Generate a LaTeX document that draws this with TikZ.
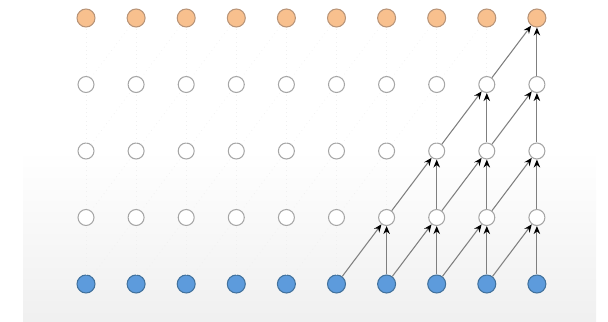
\documentclass[tikz,border=0pt]{standalone}
\usetikzlibrary{arrows.meta}
\definecolor{outFill}{HTML}{F8C08E}
\definecolor{outLine}{HTML}{B89478}
\definecolor{inFill}{HTML}{5D9BDC}
\definecolor{inLine}{HTML}{41719C}
\definecolor{hidLine}{HTML}{A6A6A6}
\definecolor{linkGray}{HTML}{7F7F7F}
\tikzset{
  unit/.style={circle, inner sep=0pt, line width=0.6pt},
  outNode/.style={unit, minimum size=0.36cm, fill=outFill, draw=outLine},
  hidNode/.style={unit, minimum size=0.32cm, fill=white, draw=hidLine},
  inNode/.style={unit, minimum size=0.36cm, fill=inFill, draw=inLine},
  conn/.style={draw=linkGray, line width=0.6pt,
    -{Stealth[length=1.6mm, width=1.3mm, black]}},
  ghost/.style={draw=black!6, line width=0.4pt, dotted},
}
\def\ColX{86}
\def\ColW{50.1}
\def\RowY{18}
\def\RowH{66.5}

\begin{document}
\begin{tikzpicture}[x=0.02cm, y=-0.02cm]
  \useasboundingbox (0,0) rectangle (608,321);

  % ----- background panel -----
  \shade[top color=white, middle color=black!5, bottom color=black!6]
    (23,150) rectangle (596,321);

  % ----- units: row 0 output, rows 1-3 hidden, row 4 input -----
  \foreach \c in {0,...,9} {
    \node[outNode] (n-0-\c) at (\ColX+\c*\ColW, \RowY) {};
    \foreach \r in {1,2,3}
      \node[hidNode] (n-\r-\c) at (\ColX+\c*\ColW, \RowY+\r*\RowH) {};
    \node[inNode] (n-4-\c) at (\ColX+\c*\ColW, \RowY+4*\RowH) {};
  }

  % ----- faint unused links -----
  \foreach \r in {0,...,3} {
    \pgfmathtruncatemacro{\rb}{\r+1}
    \pgfmathtruncatemacro{\cmin}{9-\r}
    \foreach \c in {0,...,9} {
      \ifnum\c<\cmin
        \draw[ghost] (n-\rb-\c) -- (n-\r-\c);
        \ifnum\c>0
          \pgfmathtruncatemacro{\cl}{\c-1}
          \draw[ghost] (n-\rb-\cl) -- (n-\r-\c);
        \fi
      \fi
    }
  }

  % ----- causal links (kernel 2) -----
  \foreach \r in {0,...,3} {
    \pgfmathtruncatemacro{\rb}{\r+1}
    \pgfmathtruncatemacro{\cmin}{9-\r}
    \foreach \c in {\cmin,...,9} {
      \pgfmathtruncatemacro{\cl}{\c-1}
      \draw[conn] (n-\rb-\c) -- (n-\r-\c);
      \draw[conn] (n-\rb-\cl) -- (n-\r-\c);
    }
  }
\end{tikzpicture}
\end{document}
